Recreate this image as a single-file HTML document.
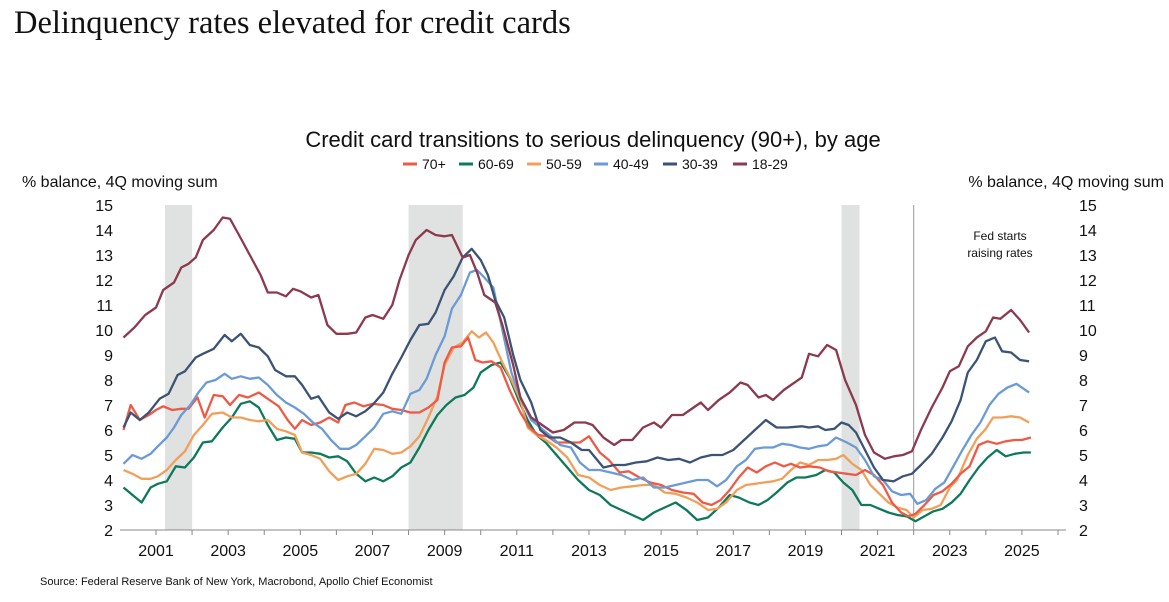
<!DOCTYPE html>
<html><head><meta charset="utf-8"><style>
body{margin:0;width:1169px;height:597px;background:#fff;overflow:hidden;font-family:"Liberation Sans","DejaVu Sans",sans-serif;}
</style></head><body>
<svg id="s" width="1169" height="597" xmlns="http://www.w3.org/2000/svg" font-family="'Liberation Sans','DejaVu Sans',sans-serif">
<text x="14" y="33" font-family="'Liberation Serif',serif" font-size="32.5" fill="#111">Delinquency rates elevated for credit cards</text>
<text x="593" y="147" font-size="22" text-anchor="middle" fill="#111">Credit card transitions to serious delinquency (90+), by age</text>
<text x="22" y="187" font-size="16" fill="#111">% balance, 4Q moving sum</text>
<text x="1164" y="187" font-size="16" fill="#111" text-anchor="end">% balance, 4Q moving sum</text>
<text x="40" y="585" font-size="11" fill="#111">Source: Federal Reserve Bank of New York, Macrobond, Apollo Chief Economist</text>
<g id="g"></g>
</svg>
<script>
var X=function(y){return 156+36.08*(y-2001)};var Y=function(v){return 530-25*(v-2)};
var g=document.getElementById('g'),h='';
[[2001.25,2002],[2008,2009.5],[2020,2020.5]].forEach(function(b){h+='<rect x="'+X(b[0])+'" y="205" width="'+(X(b[1])-X(b[0]))+'" height="325" fill="#e0e1e1"/>'});
h+='<line x1="'+X(2022.0)+'" y1="205" x2="'+X(2022.0)+'" y2="530" stroke="#999" stroke-width="1"/>';
h+='<text x="1000" y="240" font-size="12" text-anchor="middle" fill="#111">Fed starts</text><text x="1000" y="257" font-size="12" text-anchor="middle" fill="#111">raising rates</text>';
h+='<line x1="120" y1="530" x2="1066" y2="530" stroke="#888"/>';
for(var v=2;v<=15;v++){h+='<text x="113" y="'+(Y(v)+6)+'" font-size="16" text-anchor="end" fill="#111">'+v+'</text><text x="1079" y="'+(Y(v)+6)+'" font-size="16" fill="#111">'+v+'</text>';}
for(var yr=2001;yr<=2026;yr++){h+='<line x1="'+X(yr)+'" y1="530" x2="'+X(yr)+'" y2="535" stroke="#888"/>';if(yr%2)h+='<text x="'+X(yr)+'" y="556" font-size="16" text-anchor="middle" fill="#111">'+yr+'</text>';}
var S={
'70+':['#EE5A45',[2000.1,6.0,2000.3,7.0,2000.55,6.4,2000.8,6.6,2001.0,6.8,2001.2,6.95,2001.45,6.8,2001.7,6.85,2001.9,6.85,2002.15,7.3,2002.35,6.5,2002.6,7.4,2002.85,7.35,2003.05,7.0,2003.3,7.4,2003.55,7.3,2003.85,7.5,2004.1,7.25,2004.4,6.95,2004.65,6.4,2004.85,6.05,2005.05,6.4,2005.3,6.2,2005.55,6.3,2005.8,6.5,2006.05,6.3,2006.25,7.0,2006.5,7.1,2006.75,6.95,2007.0,7.05,2007.3,7.0,2007.55,6.85,2007.8,6.8,2008.05,6.7,2008.3,6.7,2008.55,6.9,2008.8,7.2,2009.0,8.7,2009.2,9.3,2009.45,9.35,2009.65,9.7,2009.85,8.8,2010.05,8.7,2010.3,8.75,2010.55,8.5,2010.8,7.6,2011.1,6.7,2011.35,6.1,2011.6,5.8,2011.85,5.75,2012.1,5.5,2012.4,5.5,2012.75,5.5,2013.0,5.75,2013.3,5.1,2013.55,4.8,2013.85,4.3,2014.1,4.35,2014.4,4.1,2014.7,3.9,2015.0,3.8,2015.3,3.6,2015.6,3.5,2015.9,3.45,2016.15,3.1,2016.4,3.0,2016.65,3.2,2016.9,3.6,2017.15,4.1,2017.4,4.5,2017.65,4.3,2017.9,4.55,2018.15,4.7,2018.4,4.55,2018.6,4.65,2018.85,4.5,2019.1,4.55,2019.4,4.5,2019.65,4.35,2019.9,4.3,2020.15,4.25,2020.4,4.2,2020.65,4.4,2020.9,4.2,2021.15,3.8,2021.4,3.1,2021.65,2.7,2021.85,2.55,2022.05,2.65,2022.3,3.0,2022.55,3.4,2022.8,3.55,2023.05,3.85,2023.3,4.25,2023.55,4.55,2023.8,5.4,2024.05,5.55,2024.3,5.45,2024.55,5.55,2024.8,5.6,2025.0,5.6,2025.25,5.7]],
'60-69':['#0E7A5A',[2000.1,3.7,2000.35,3.4,2000.6,3.1,2000.85,3.7,2001.05,3.85,2001.3,3.95,2001.55,4.55,2001.8,4.5,2002.05,4.9,2002.3,5.5,2002.55,5.55,2002.85,6.1,2003.1,6.5,2003.35,7.05,2003.6,7.15,2003.85,6.9,2004.1,6.2,2004.35,5.6,2004.6,5.7,2004.85,5.65,2005.05,5.1,2005.3,5.1,2005.55,5.05,2005.8,4.9,2006.05,4.95,2006.3,4.75,2006.55,4.25,2006.8,3.95,2007.05,4.1,2007.3,3.95,2007.55,4.15,2007.8,4.5,2008.05,4.7,2008.3,5.3,2008.55,6.0,2008.8,6.6,2009.05,7.0,2009.3,7.3,2009.55,7.4,2009.8,7.7,2010.0,8.3,2010.3,8.6,2010.55,8.7,2010.8,8.1,2011.05,7.2,2011.3,6.4,2011.55,5.8,2011.8,5.5,2012.1,5.0,2012.4,4.5,2012.7,4.0,2013.0,3.6,2013.3,3.4,2013.6,3.0,2013.9,2.8,2014.2,2.6,2014.5,2.4,2014.8,2.7,2015.1,2.9,2015.4,3.1,2015.7,2.8,2016.0,2.4,2016.3,2.5,2016.6,2.9,2016.9,3.4,2017.15,3.3,2017.45,3.1,2017.7,3.0,2017.95,3.2,2018.2,3.5,2018.5,3.9,2018.75,4.1,2019.0,4.1,2019.3,4.2,2019.55,4.4,2019.8,4.3,2020.05,3.9,2020.3,3.6,2020.55,3.0,2020.8,3.0,2021.05,2.85,2021.3,2.7,2021.55,2.6,2021.8,2.55,2022.05,2.35,2022.3,2.55,2022.55,2.75,2022.8,2.85,2023.05,3.1,2023.3,3.45,2023.55,4.0,2023.8,4.5,2024.05,4.9,2024.3,5.2,2024.55,4.95,2024.8,5.05,2025.05,5.1,2025.25,5.1]],
'50-59':['#F0A05A',[2000.1,4.4,2000.35,4.25,2000.6,4.05,2000.85,4.05,2001.05,4.15,2001.3,4.4,2001.55,4.8,2001.8,5.15,2002.05,5.8,2002.3,6.2,2002.55,6.65,2002.85,6.7,2003.1,6.5,2003.35,6.5,2003.6,6.4,2003.85,6.35,2004.1,6.4,2004.35,6.05,2004.6,5.95,2004.85,5.8,2005.05,5.1,2005.3,5.0,2005.55,4.85,2005.8,4.35,2006.05,4.0,2006.3,4.15,2006.55,4.25,2006.8,4.65,2007.05,5.25,2007.3,5.2,2007.55,5.05,2007.8,5.1,2008.05,5.35,2008.3,5.75,2008.55,6.5,2008.8,7.35,2009.0,8.6,2009.25,9.3,2009.5,9.5,2009.75,9.95,2009.95,9.7,2010.15,9.9,2010.35,9.5,2010.6,8.7,2010.85,8.0,2011.1,7.2,2011.3,6.1,2011.55,5.8,2011.8,5.6,2012.1,5.3,2012.4,4.9,2012.7,4.2,2013.0,4.1,2013.3,3.8,2013.6,3.6,2013.9,3.7,2014.2,3.75,2014.5,3.8,2014.8,3.8,2015.1,3.5,2015.4,3.45,2015.7,3.3,2016.0,3.1,2016.3,2.8,2016.55,2.85,2016.8,3.1,2017.1,3.6,2017.35,3.8,2017.6,3.85,2017.85,3.9,2018.1,3.95,2018.35,4.05,2018.6,4.4,2018.85,4.7,2019.1,4.6,2019.35,4.8,2019.6,4.8,2019.85,4.85,2020.05,5.0,2020.3,4.65,2020.55,4.4,2020.8,3.8,2021.05,3.45,2021.3,3.1,2021.55,2.9,2021.8,2.8,2022.0,2.5,2022.25,2.8,2022.5,2.85,2022.75,3.0,2023.0,3.7,2023.2,4.0,2023.5,5.0,2023.75,5.65,2024.0,6.05,2024.2,6.5,2024.45,6.5,2024.7,6.55,2024.95,6.5,2025.2,6.3]],
'40-49':['#6A9BD6',[2000.1,4.65,2000.35,5.0,2000.6,4.85,2000.85,5.05,2001.05,5.35,2001.3,5.7,2001.5,6.1,2001.7,6.6,2001.95,7.0,2002.2,7.55,2002.4,7.9,2002.65,8.0,2002.9,8.25,2003.1,8.05,2003.35,8.15,2003.6,8.05,2003.85,8.1,2004.1,7.8,2004.35,7.4,2004.6,7.1,2004.85,6.9,2005.1,6.65,2005.35,6.3,2005.6,6.05,2005.85,5.6,2006.1,5.25,2006.35,5.25,2006.55,5.4,2006.8,5.75,2007.05,6.1,2007.3,6.65,2007.55,6.75,2007.8,6.65,2008.05,7.45,2008.3,7.6,2008.5,8.05,2008.75,9.0,2009.0,9.75,2009.2,10.85,2009.45,11.4,2009.7,12.3,2009.9,12.4,2010.1,12.1,2010.35,11.7,2010.6,10.0,2010.85,8.3,2011.1,7.3,2011.4,6.4,2011.65,6.1,2011.9,5.8,2012.2,5.4,2012.5,5.3,2012.75,4.7,2013.0,4.4,2013.3,4.4,2013.6,4.3,2013.9,4.2,2014.2,4.0,2014.5,4.1,2014.8,3.7,2015.1,3.7,2015.4,3.8,2015.7,3.9,2016.0,4.0,2016.3,4.0,2016.55,3.75,2016.8,4.0,2017.1,4.55,2017.35,4.8,2017.6,5.25,2017.85,5.3,2018.1,5.3,2018.35,5.45,2018.6,5.4,2018.85,5.3,2019.1,5.25,2019.35,5.35,2019.6,5.4,2019.85,5.7,2020.15,5.5,2020.4,5.3,2020.65,4.8,2020.9,4.15,2021.15,4.0,2021.4,3.55,2021.65,3.4,2021.9,3.45,2022.1,3.05,2022.35,3.2,2022.6,3.65,2022.85,3.9,2023.1,4.55,2023.35,5.2,2023.6,5.8,2023.85,6.3,2024.1,7.0,2024.35,7.45,2024.6,7.7,2024.85,7.85,2025.05,7.65,2025.2,7.5]],
'30-39':['#3B5375',[2000.1,6.1,2000.3,6.7,2000.55,6.4,2000.8,6.7,2001.1,7.25,2001.35,7.45,2001.6,8.2,2001.8,8.35,2002.1,8.9,2002.3,9.05,2002.6,9.25,2002.9,9.8,2003.1,9.55,2003.35,9.85,2003.6,9.4,2003.85,9.3,2004.1,8.95,2004.3,8.4,2004.6,8.15,2004.85,8.15,2005.05,7.8,2005.3,7.25,2005.5,7.35,2005.8,6.7,2006.05,6.45,2006.3,6.7,2006.55,6.55,2006.8,6.75,2007.0,7.0,2007.3,7.5,2007.55,8.25,2007.8,8.9,2008.05,9.6,2008.3,10.2,2008.55,10.25,2008.75,10.7,2009.0,11.6,2009.25,12.15,2009.5,12.9,2009.75,13.25,2010.0,12.8,2010.2,12.2,2010.4,11.2,2010.65,10.5,2010.9,9.0,2011.1,8.0,2011.4,7.1,2011.65,6.0,2011.9,5.7,2012.2,5.7,2012.5,5.5,2012.8,5.2,2013.0,5.2,2013.4,4.5,2013.7,4.6,2014.0,4.6,2014.3,4.7,2014.6,4.75,2014.9,4.9,2015.2,4.8,2015.5,4.85,2015.8,4.7,2016.1,4.9,2016.4,5.0,2016.7,5.0,2017.0,5.2,2017.3,5.6,2017.6,6.0,2017.9,6.4,2018.2,6.1,2018.5,6.1,2018.9,6.15,2019.1,6.1,2019.35,6.15,2019.55,6.0,2019.8,6.05,2020.0,6.3,2020.2,6.2,2020.4,5.9,2020.65,5.2,2020.9,4.5,2021.15,4.0,2021.45,3.95,2021.7,4.15,2021.95,4.25,2022.2,4.6,2022.5,5.05,2022.8,5.7,2023.05,6.35,2023.3,7.2,2023.5,8.3,2023.75,8.8,2024.0,9.55,2024.25,9.7,2024.45,9.15,2024.7,9.1,2024.95,8.8,2025.2,8.75]],
'18-29':['#8B3A4F',[2000.1,9.7,2000.4,10.1,2000.7,10.6,2001.0,10.9,2001.2,11.6,2001.5,11.9,2001.7,12.5,2001.9,12.65,2002.1,12.9,2002.3,13.6,2002.6,14.0,2002.85,14.5,2003.05,14.45,2003.3,13.8,2003.6,13.0,2003.9,12.2,2004.1,11.5,2004.35,11.5,2004.6,11.35,2004.8,11.65,2005.0,11.55,2005.3,11.3,2005.5,11.4,2005.75,10.2,2006.0,9.85,2006.3,9.85,2006.55,9.9,2006.8,10.5,2007.0,10.6,2007.3,10.45,2007.55,11.0,2007.75,12.0,2008.0,13.0,2008.2,13.6,2008.5,14.0,2008.75,13.8,2009.0,13.75,2009.2,13.8,2009.5,12.9,2009.7,13.0,2009.9,12.3,2010.1,11.4,2010.4,11.1,2010.6,10.2,2010.9,8.6,2011.1,7.3,2011.4,6.5,2011.7,6.2,2012.0,5.9,2012.3,6.0,2012.6,6.3,2012.9,6.3,2013.1,6.2,2013.4,5.7,2013.7,5.4,2013.9,5.6,2014.2,5.6,2014.5,6.1,2014.8,6.3,2015.0,6.1,2015.3,6.6,2015.6,6.6,2015.8,6.8,2016.1,7.1,2016.3,6.8,2016.6,7.2,2016.9,7.5,2017.2,7.9,2017.4,7.8,2017.7,7.3,2017.9,7.4,2018.1,7.2,2018.4,7.6,2018.6,7.8,2018.9,8.1,2019.1,9.05,2019.35,8.95,2019.6,9.4,2019.85,9.2,2020.1,8.0,2020.4,7.0,2020.65,5.8,2020.9,5.1,2021.2,4.85,2021.45,4.95,2021.7,5.0,2021.95,5.15,2022.2,6.0,2022.5,6.9,2022.8,7.7,2023.0,8.35,2023.25,8.55,2023.5,9.35,2023.75,9.7,2024.0,9.95,2024.2,10.5,2024.4,10.45,2024.7,10.8,2024.95,10.4,2025.2,9.9]]};
var names=['70+','60-69','50-59','40-49','30-39','18-29'];
var order=['60-69','50-59','70+','40-49','30-39','18-29'];
order.forEach(function(n){var c=S[n][0],d=S[n][1],p=[];for(var i=0;i<d.length;i+=2)p.push(X(d[i]).toFixed(1)+','+Y(d[i+1]).toFixed(1));h+='<polyline points="'+p.join(' ')+'" fill="none" stroke="'+c+'" stroke-width="2.3" stroke-linejoin="round"/>';});
var lx=[403,459,527,594,663,733];
names.forEach(function(n,i){h+='<line x1="'+lx[i]+'" y1="164" x2="'+(lx[i]+14)+'" y2="164" stroke="'+S[n][0]+'" stroke-width="3"/><text x="'+(lx[i]+19)+'" y="169" font-size="14" fill="#111">'+n+'</text>';});
g.innerHTML=h;
</script>
</body></html>
